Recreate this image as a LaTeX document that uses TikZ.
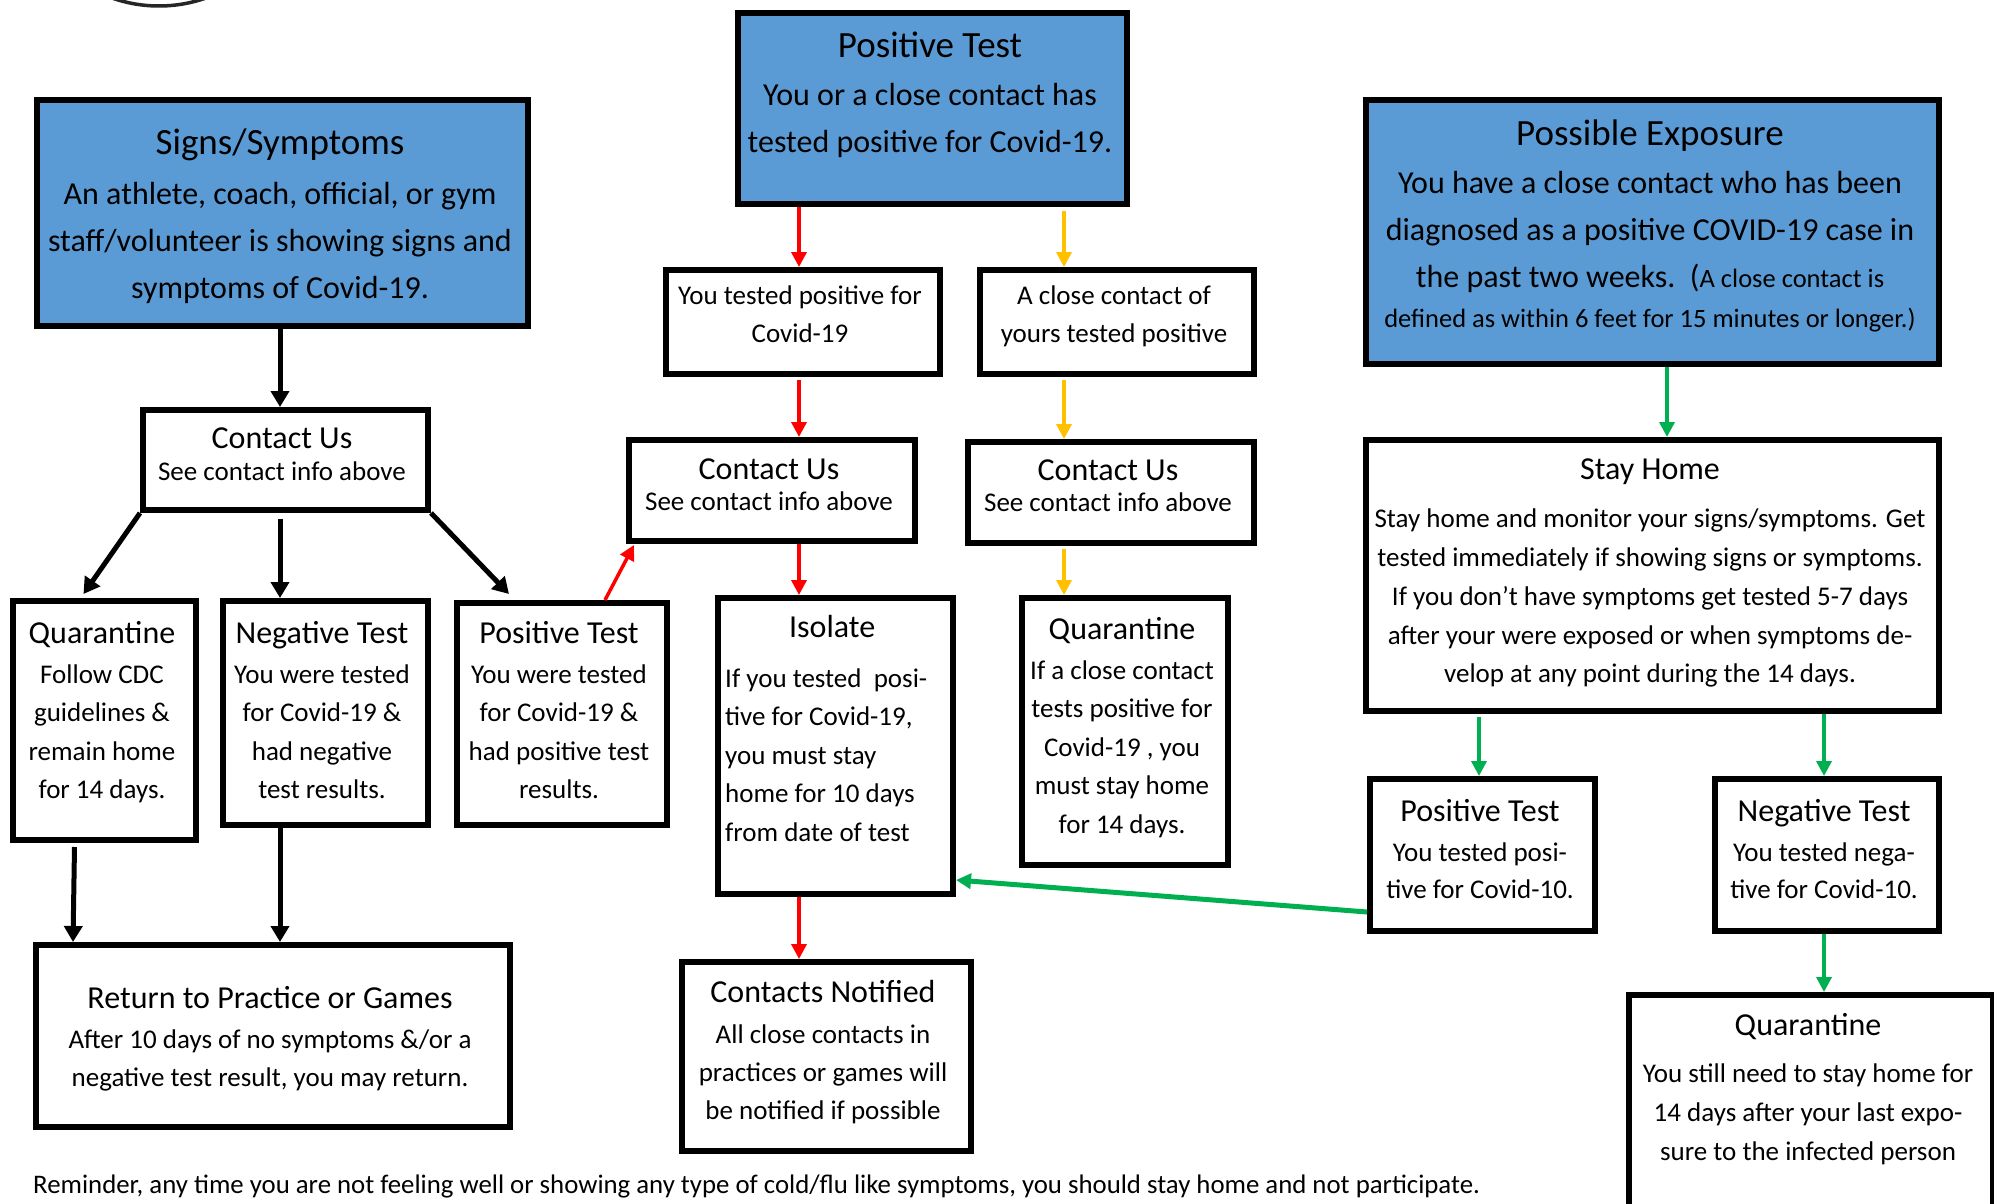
\documentclass[tikz,border=0pt]{standalone}
\usepackage{fontspec}
\setmainfont{Carlito}
\usetikzlibrary{arrows.meta,calc}
\definecolor{cBlue}{HTML}{5B9BD5}
\definecolor{cRed}{HTML}{FF0000}
\definecolor{cYel}{HTML}{FFC000}
\definecolor{cGrn}{HTML}{00B050}
\newcommand\fsz[2]{\fontsize{#1}{#2}\selectfont}
\newcommand\bttl[1]{{\fsz{37}{42}#1}}
\newcommand\sttl[1]{{\fsz{32}{36}#1}}
\begin{document}
\begin{tikzpicture}[x=1pt,y=-1pt,
  box/.style={draw=black, line width=6pt, fill=white, inner sep=0pt, anchor=north west},
  bluebox/.style={box, fill=cBlue},
  bigtxt/.style={inner sep=0pt, anchor=base, align=flush center, text width=600pt, font=\fsz{32}{47}},
  smltxt/.style={inner sep=0pt, anchor=base, align=flush center, text width=600pt, font=\fsz{27}{38.5}},
  arrblk/.style={draw=black, line width=5pt, -{Triangle[length=16pt,width=18pt]}},
  arrred/.style={draw=cRed, line width=3.5pt, -{Triangle[length=15pt,width=15pt]}},
  arryel/.style={draw=cYel, line width=3.5pt, -{Triangle[length=15pt,width=15pt]}},
  arrgrn/.style={draw=cGrn, line width=3.5pt, -{Triangle[length=15pt,width=15pt]}}
]
\useasboundingbox (0,0) rectangle (1994,1204);
\fill[white] (0,0) rectangle (1994,1204);
\clip (0,0) rectangle (1994,1204);

% partial logo circle at the top edge
\draw[line width=3.5pt, black!85] (159,-135) circle[radius=141pt];

% ---- boxes ----
\node[bluebox, minimum width=491pt, minimum height=226pt] (signs) at (34,97) {};
\node[bigtxt] (signsT) at (280,154) {\bttl{Signs/Symptoms}\\[3pt]An athlete, coach, official, or gym\\staff/volunteer is showing signs and\\symptoms of Covid-19.};

\node[bluebox, minimum width=389pt, minimum height=191pt] (posTop) at (735,10) {};
\node[bigtxt] (posTopT) at (930,58) {\bttl{Positive Test}\\[1pt]You or a close contact has\\tested positive for Covid-19.};

\node[bluebox, minimum width=573pt, minimum height=264pt] (expo) at (1363,97) {};
\node[bigtxt] (expoT) at (1650,146) {\bttl{Possible Exposure}\\[1pt]You have a close contact who has been\\diagnosed as a positive COVID-19 case in\\the past two weeks.\ \ ({\fsz{26.5}{30}A close contact is}\\[-7pt]{\fsz{26.5}{30}defined as within 6 feet for 15 minutes or longer.)}};

\node[box, minimum width=274pt, minimum height=104pt] (youPos) at (663,267) {};
\node[smltxt] (youPosT) at (800,304) {You tested positive for\\Covid-19};
\node[box, minimum width=274pt, minimum height=104pt] (closeC) at (977,267) {};
\node[smltxt] (closeCT) at (1114,304) {A close contact of\\yours tested positive};

\node[box, minimum width=285pt, minimum height=100pt] (contactL) at (140,407) {};
\node[smltxt] (contactLT) at (282,448) {\sttl{Contact Us}\\[-6.5pt]See contact info above};
\node[box, minimum width=286pt, minimum height=101pt] (contactM) at (626,437) {};
\node[smltxt] (contactMT) at (769,479) {\sttl{Contact Us}\\[-7.5pt]See contact info above};
\node[box, minimum width=286pt, minimum height=101pt] (contactR) at (965,439) {};
\node[smltxt] (contactRT) at (1108,480) {\sttl{Contact Us}\\[-7.5pt]See contact info above};

\node[box, minimum width=573pt, minimum height=271pt] (stay) at (1363,437) {};
\node[smltxt, font=\fsz{27}{38.75}] (stayT) at (1650,479) {\sttl{Stay Home}\\[10pt]Stay home and monitor your signs/symptoms. Get\\tested immediately if showing signs or symptoms.\\If you don’t have symptoms get tested 5-7 days\\after your were exposed or when symptoms de-\\velop at any point during the 14 days.};

\node[box, minimum width=183pt, minimum height=239pt] (quarL) at (10,598) {};
\node[smltxt] (quarLT) at (102,643) {\sttl{Quarantine}\\[1.5pt]Follow CDC\\guidelines \&\\remain home\\for 14 days.};
\node[box, minimum width=205pt, minimum height=224pt] (negL) at (220,598) {};
\node[smltxt] (negLT) at (322,643) {\sttl{Negative Test}\\[1.5pt]You were tested\\for Covid-19 \&\\had negative\\test results.};
\node[box, minimum width=210pt, minimum height=222pt] (posL) at (454,600) {};
\node[smltxt] (posLT) at (559,643) {\sttl{Positive Test}\\[1.5pt]You were tested\\for Covid-19 \&\\had positive test\\results.};

\node[box, minimum width=235pt, minimum height=296pt] (iso) at (715,595) {};
\node[smltxt, align=flush left, text width=214pt, anchor=base west] (isoT) at (725,637) {\makebox[\linewidth][c]{\sttl{Isolate}}\\[11.5pt]If you tested\ \ posi-\\tive for Covid-19,\\you must stay\\home for 10 days\\from date of test};

\node[box, minimum width=206pt, minimum height=267pt] (quarM) at (1019,595) {};
\node[smltxt] (quarMT) at (1122,639) {\sttl{Quarantine}\\[1.5pt]If a close contact\\tests positive for\\Covid-19 , you\\must stay home\\for 14 days.};

\node[box, minimum width=225pt, minimum height=152pt] (posR) at (1367,776) {};
\node[smltxt, font=\fsz{27}{37}] (posRT) at (1480,821) {\sttl{Positive Test}\\[3pt]You tested posi-\\tive for Covid-10.};
\node[box, minimum width=224pt, minimum height=152pt] (negR) at (1712,776) {};
\node[smltxt, font=\fsz{27}{37}] (negRT) at (1824,821) {\sttl{Negative Test}\\[3pt]You tested nega-\\tive for Covid-10.};

\node[box, minimum width=474pt, minimum height=182pt] (ret) at (33,942) {};
\node[smltxt, font=\fsz{27}{38}] (retT) at (270,1008) {\sttl{Return to Practice or Games}\\[2pt]After 10 days of no symptoms \&/or a\\negative test result, you may return.};

\node[box, minimum width=289pt, minimum height=189pt] (notif) at (679,959) {};
\node[smltxt, font=\fsz{27}{38}] (notifT) at (823,1002) {\sttl{Contacts Notified}\\[3pt]All close contacts in\\practices or games will\\be notified if possible};

\node[box, minimum width=364pt, minimum height=260pt] (quarB) at (1626,992) {};
\node[smltxt, font=\fsz{27}{39}] (quarBT) at (1808,1035) {\sttl{Quarantine}\\[8pt]You still need to stay home for\\14 days after your last expo-\\sure to the infected person};

\node[anchor=base west, inner sep=0pt, font=\fsz{26.8}{30}] (remind) at (33,1193) {Reminder, any time you are not feeling well or showing any type of cold/flu like symptoms, you should stay home and not participate.};

% ---- arrow columns ----
\coordinate (bcol) at (280,0);
\coordinate (rcol) at (799,0);
\coordinate (ycol) at (1064,0);
\coordinate (gcolA) at (1667,0);
\coordinate (gcolB) at (1479,0);
\coordinate (gcolC) at (1824,0);

% black
\draw[arrblk] (bcol |- signs.south) -- (bcol |- contactL.north);
\draw[arrblk, shorten <=6pt] (bcol |- contactL.south) -- (bcol |- negL.north);
\draw[arrblk] (contactL.south west) -- ($(quarL.north)+(-21,-4)$);
\draw[arrblk] (contactL.south east) -- ($(posL.north)+(-53,-6)$);
\draw[arrblk] ($(quarL.south)+(-30,4)$) -- ($(ret.north west)+(40,0)$);
\draw[arrblk] (bcol |- negL.south) -- (bcol |- ret.north);

% red
\draw[arrred] (rcol |- posTop.south) -- (rcol |- youPos.north);
\draw[arrred, shorten <=3pt] (rcol |- youPos.south) -- (rcol |- contactM.north);
\draw[arrred] (rcol |- contactM.south) -- (rcol |- iso.north);
\draw[arrred] (rcol |- iso.south) -- (rcol |- notif.north);
\draw[arrred] ($(posL.north)+(43,0)$) -- ($(contactM.south west)+(8,1)$);

% yellow
\draw[arryel, shorten <=4pt] (ycol |- posTop.south) -- (ycol |- closeC.north);
\draw[arryel, shorten <=3pt] (ycol |- closeC.south) -- (ycol |- contactR.north);
\draw[arryel, shorten <=3pt] (ycol |- contactR.south) -- (ycol |- quarM.north);

% green
\draw[arrgrn] (gcolA |- expo.south) -- (gcolA |- stay.north);
\draw[arrgrn, shorten <=3pt] (gcolB |- stay.south) -- (gcolB |- posR.north);
\draw[arrgrn] (gcolC |- stay.south) -- (gcolC |- negR.north);
\draw[arrgrn] (gcolC |- negR.south) -- (gcolC |- quarB.north);
\draw[arrgrn, line width=5pt] ($(posR.south west)+(0,-22)$) -- ($(iso.south east)+(0,-17)$);
\end{tikzpicture}
\end{document}
